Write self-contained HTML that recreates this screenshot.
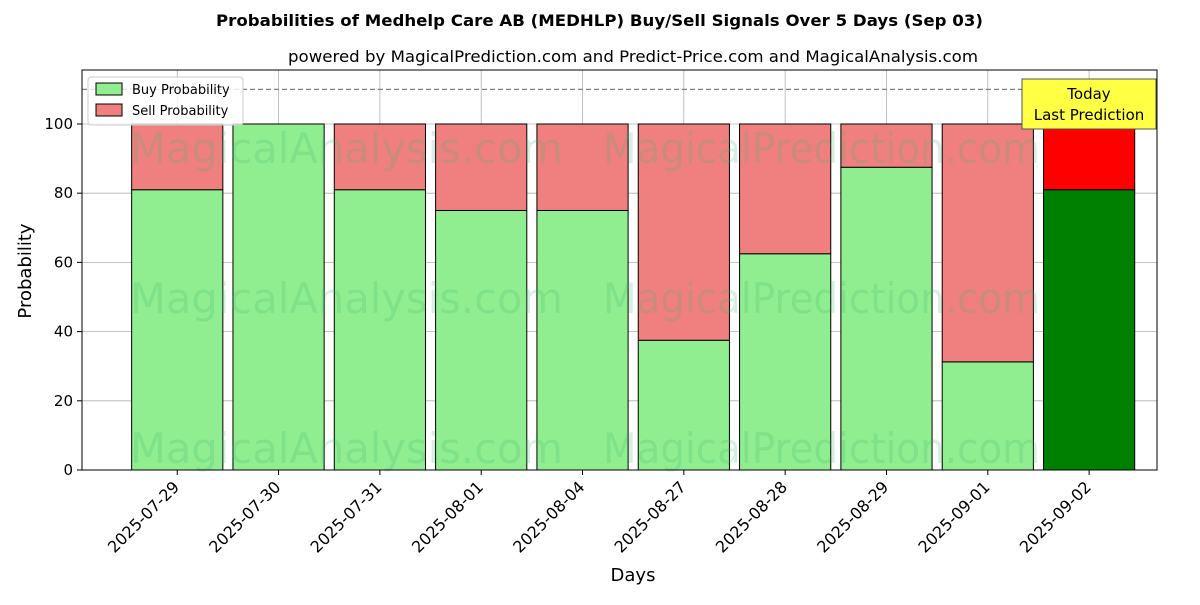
<!DOCTYPE html>
<html><head><meta charset="utf-8">
<style>
body{margin:0;background:#fff;font-family:"Liberation Sans","DejaVu Sans",sans-serif;}
svg text{font-family:"DejaVu Sans","Liberation Sans",sans-serif;}
</style></head>
<body>
<svg id="chart" width="1200" height="600" xmlns="http://www.w3.org/2000/svg">
<text x="216" y="26" font-size="16" font-weight="bold" textLength="767" lengthAdjust="spacingAndGlyphs">Probabilities of Medhelp Care AB (MEDHLP) Buy/Sell Signals Over 5 Days (Sep 03)</text>
<text x="288" y="62" font-size="16" textLength="690" lengthAdjust="spacingAndGlyphs">powered by MagicalPrediction.com and Predict-Price.com and MagicalAnalysis.com</text>
<g id="grid"></g>
<g id="bars"></g>
<g id="wm" fill="#3cb371" fill-opacity="0.2" font-size="42">
<text x="130" y="163" textLength="433" lengthAdjust="spacingAndGlyphs">MagicalAnalysis.com</text>
<text x="603" y="163" textLength="437" lengthAdjust="spacingAndGlyphs">MagicalPrediction.com</text>
<text x="130" y="313" textLength="433" lengthAdjust="spacingAndGlyphs">MagicalAnalysis.com</text>
<text x="603" y="313" textLength="437" lengthAdjust="spacingAndGlyphs">MagicalPrediction.com</text>
<text x="130" y="463" textLength="433" lengthAdjust="spacingAndGlyphs">MagicalAnalysis.com</text>
<text x="603" y="463" textLength="437" lengthAdjust="spacingAndGlyphs">MagicalPrediction.com</text>
</g>
<line x1="82" y1="89.4" x2="1157" y2="89.4" stroke="#808080" stroke-width="1.2" stroke-dasharray="5,3"/>
<rect x="82" y="70" width="1075" height="400" fill="none" stroke="#000" stroke-width="1"/>
<g id="axes"></g>
<text x="633" y="581" text-anchor="middle" font-size="18">Days</text>
<text transform="translate(31,271) rotate(-90)" text-anchor="middle" font-size="18">Probability</text>
<g>
<rect x="1022" y="79" width="134" height="50" fill="#ffff44" stroke="#555" stroke-width="1"/>
<text x="1089" y="99" text-anchor="middle" font-size="15">Today</text>
<text x="1089" y="120" text-anchor="middle" font-size="15">Last Prediction</text>
</g>
<g>
<rect x="88" y="77" width="155" height="48" fill="#fff" fill-opacity="0.8" stroke="#ccc" rx="3"/>
<rect x="96" y="83" width="26" height="12" fill="#90ee90" stroke="#000" stroke-width="1"/>
<text x="132" y="94" font-size="13">Buy Probability</text>
<rect x="96" y="104" width="26" height="12" fill="#f08080" stroke="#000" stroke-width="1"/>
<text x="132" y="115" font-size="13">Sell Probability</text>
</g>
</svg>
<script>
const categories=["2025-07-29","2025-07-30","2025-07-31","2025-08-01","2025-08-04","2025-08-27","2025-08-28","2025-08-29","2025-09-01","2025-09-02"];
const buyValues=[81,100,81,75,75,37.5,62.5,87.5,31.25,81];
const sellValues=[19,0,19,25,25,62.5,37.5,12.5,68.75,19];
const yTicks=[0,20,40,60,80,100];
const NS="http://www.w3.org/2000/svg";
const X0=82,X1=1157,Y0=470,Y1=70,XMIN=-0.94,XMAX=9.67,YMAX=115.6;
function xs(i){return X0+(i-XMIN)/(XMAX-XMIN)*(X1-X0);}
function ys(v){return Y0-v/YMAX*(Y0-Y1);}
function mk(t,a,p){const e=document.createElementNS(NS,t);for(const k in a)e.setAttribute(k,a[k]);p.appendChild(e);return e;}
const grid=document.getElementById('grid'),bars=document.getElementById('bars'),axes=document.getElementById('axes');
yTicks.forEach(v=>{
  const l=mk('line',{x1:X0,x2:X1,y1:ys(v),y2:ys(v),stroke:'#b0b0b0','stroke-width':0.8},grid);
  
  
  const t=mk('line',{x1:X0-5,x2:X0,y1:ys(v),y2:ys(v),stroke:'#000'},axes);
  
  
  const tx=mk('text',{x:X0-9,y:ys(v)+5,'text-anchor':'end','font-size':15},axes);
  tx.textContent=v;
  
  
});
const bw=0.9;
categories.forEach((c,i)=>{
  const cx=xs(i);
  const l=mk('line',{x1:cx,x2:cx,y1:Y1,y2:Y0,stroke:'#b0b0b0','stroke-width':0.8},grid);
  
  
  const last=i===categories.length-1;
  const left=xs(i-bw/2),w=xs(i+bw/2)-left;
  const b=mk('rect',{x:left,y:ys(buyValues[i]),width:w,height:ys(0)-ys(buyValues[i]),fill:last?'#008000':'#90ee90',stroke:'#000','stroke-width':1},bars);
  
  
  const s=mk('rect',{x:left,y:ys(buyValues[i]+sellValues[i]),width:w,height:ys(buyValues[i])-ys(buyValues[i]+sellValues[i]),fill:last?'#ff0000':'#f08080',stroke:'#000','stroke-width':1},bars);
  
  
  const t=mk('line',{x1:cx,x2:cx,y1:Y0,y2:Y0+5,stroke:'#000'},axes);
  
  
  const tx=mk('text',{x:cx+3,y:Y0+18,'text-anchor':'end','font-size':16,transform:`rotate(-45 ${cx+3} ${Y0+18})`},axes);
  tx.textContent=c;
  
  
});
</script>
</body></html>
